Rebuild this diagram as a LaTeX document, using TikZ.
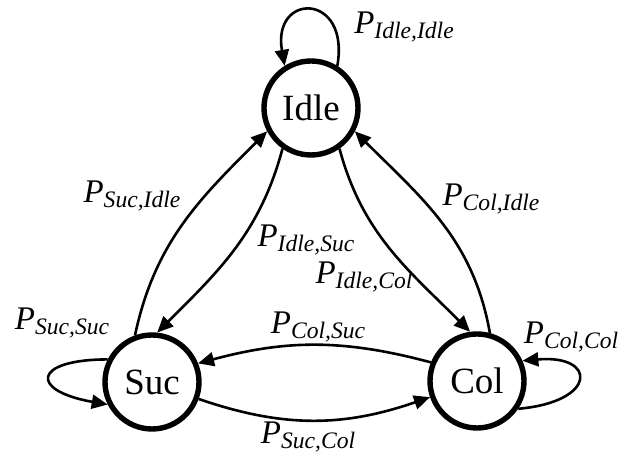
\documentclass[tikz,border=0pt]{standalone}
\usepackage{fontspec}
\setmainfont{Liberation Serif}
\usetikzlibrary{arrows.meta}
\newcommand{\ptrans}[2]{\textit{P}\raisebox{-2.4pt}{\fontsize{11.8}{12}\selectfont\textit{#1,#2}}}

\begin{document}
\begin{tikzpicture}[x=0.5pt, y=0.5pt,
  state/.style={draw, circle, line width=2.7pt, minimum size=47pt, inner sep=0pt, font=\fontsize{18.5}{20}\selectfont},
  trans/.style={-{Triangle[length=8pt, width=7pt]}, line width=1.3pt},
  plabel/.style={inner sep=0pt, font=\fontsize{16.5}{18}\selectfont}]
  \useasboundingbox (0,0) rectangle (622,459);

  \node[state] (idle) at (311,351) {Idle};
  \node[state] (suc) at (152,77) {Suc};
  \node[state] (col) at (477,78) {Col};

  % self loops
  \draw[trans] (idle.58) .. controls +(80:75) and +(100:75) .. (idle.122);
  \draw[trans] (suc.153) .. controls +(180:75) and +(170:80) .. (suc.207);
  \draw[trans] (col.326) .. controls +(5:80) and +(5:75) .. (col.24);

  % transitions between states
  \draw[trans] (suc.110) to[out=78, in=225] (idle.208);
  \draw[trans] (idle.235) to[out=255, in=45] (suc.84);
  \draw[trans] (idle.305) to[out=285, in=135] (col.98);
  \draw[trans] (col.75) to[out=100, in=315] (idle.332);
  \draw[trans] (col.158) to[out=165, in=15] (suc.22);
  \draw[trans] (suc.340) to[out=341, in=199] (col.199);

  \node[plabel] (pii) at (404,432) {\ptrans{Idle}{Idle}};
  \node[plabel] (psi) at (132,263) {\ptrans{Suc}{Idle}};
  \node[plabel] (pis) at (306,219) {\ptrans{Idle}{Suc}};
  \node[plabel] (pic) at (364,182) {\ptrans{Idle}{Col}};
  \node[plabel] (pci) at (491,260) {\ptrans{Col}{Idle}};
  \node[plabel] (pss) at (62,136) {\ptrans{Suc}{Suc}};
  \node[plabel] (pcc) at (571,122) {\ptrans{Col}{Col}};
  \node[plabel] (pcs) at (318,132) {\ptrans{Col}{Suc}};
  \node[plabel] (psc) at (308,22) {\ptrans{Suc}{Col}};
\end{tikzpicture}
\end{document}
